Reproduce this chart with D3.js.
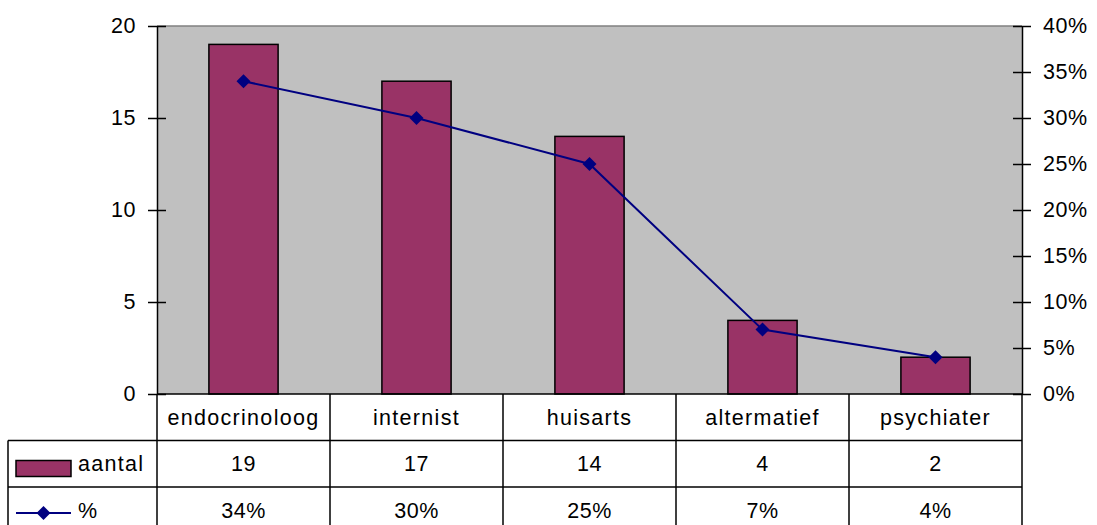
<!DOCTYPE html>
<html>
<head>
<meta charset="utf-8">
<script src="https://cdn.jsdelivr.net/npm/d3@7"></script>
<style>
  html, body { margin: 0; padding: 0; background: #fff; }
  svg { display: block; }
  text { font-family: "Liberation Sans", Arial, sans-serif; fill: #000; }
</style>
</head>
<body>
<svg id="chart" width="1097" height="525"></svg>
<script>
// Consulted care providers: count (bars) and share (line)
const categories = ["endocrinoloog", "internist", "huisarts", "altermatief", "psychiater"];
const aantal = [19, 17, 14, 4, 2];
const percentage = [0.34, 0.30, 0.25, 0.07, 0.04];
const leftTicks = [0, 5, 10, 15, 20];
const rightTicks = [0, 0.05, 0.10, 0.15, 0.20, 0.25, 0.30, 0.35, 0.40];
const seriesNames = ["aantal", "%"];

const svg = d3.select("#chart");
const plot = { left: 157, right: 1022, top: 26, bottom: 394 };
const table = { left: 8, rowH: 46.5 };
const fontSize = 21.5;
const wordSpacing = "1.3px";   // spacing for word labels
const numSpacing = "0.5px";    // spacing for numeric labels
const barColor = "#993366";
const lineColor = "#000080";

const x = d3.scaleBand().domain(categories).range([plot.left, plot.right]).paddingInner(0).paddingOuter(0);
const yL = d3.scaleLinear().domain([0, 20]).range([plot.bottom, plot.top]);
const yR = d3.scaleLinear().domain([0, 0.40]).range([plot.bottom, plot.top]);

// Plot background
svg.append("rect")
  .attr("x", plot.left).attr("y", plot.top)
  .attr("width", plot.right - plot.left).attr("height", plot.bottom - plot.top)
  .attr("fill", "#C0C0C0");
svg.append("line")
  .attr("x1", plot.left).attr("x2", plot.right)
  .attr("y1", plot.top).attr("y2", plot.top)
  .attr("stroke", "#808080").attr("stroke-width", 1.5);

// Bars
const barW = x.bandwidth() / 2.5;
svg.append("g").selectAll("rect")
  .data(aantal)
  .join("rect")
  .attr("x", (d, i) => x(categories[i]) + x.bandwidth() / 2 - barW / 2)
  .attr("y", d => yL(d))
  .attr("width", barW)
  .attr("height", d => plot.bottom - yL(d))
  .attr("fill", barColor)
  .attr("stroke", "#000")
  .attr("stroke-width", 1.5);

// Line with diamond markers
const cx = (i) => x(categories[i]) + x.bandwidth() / 2;
svg.append("path")
  .datum(percentage)
  .attr("d", d3.line().x((d, i) => cx(i)).y(d => yR(d)))
  .attr("fill", "none")
  .attr("stroke", lineColor)
  .attr("stroke-width", 2);
const diamond = d3.symbol().type(d3.symbolDiamond2).size(125);
svg.append("g").selectAll("path")
  .data(percentage)
  .join("path")
  .attr("transform", (d, i) => `translate(${cx(i)},${yR(d)})`)
  .attr("d", diamond)
  .attr("fill", lineColor);

// Axes with crossing ticks
const leftAxis = svg.append("g")
  .attr("transform", `translate(${plot.left},0)`)
  .call(d3.axisLeft(yL).tickValues(leftTicks).tickSize(9).tickPadding(12).tickSizeOuter(0));
leftAxis.selectAll(".tick line").attr("x2", -9).attr("x1", 9);
const rightAxis = svg.append("g")
  .attr("transform", `translate(${plot.right},0)`)
  .call(d3.axisRight(yR).tickValues(rightTicks).tickFormat(d3.format(".0%")).tickSize(9).tickPadding(12).tickSizeOuter(0));
rightAxis.selectAll(".tick line").attr("x1", -9).attr("x2", 9);
[leftAxis, rightAxis].forEach(g => {
  g.select(".domain").attr("stroke", "#000").attr("stroke-width", 1.5);
  g.selectAll(".tick line").attr("stroke", "#000").attr("stroke-width", 1.5);
  g.selectAll(".tick text")
    .style("font-family", "'Liberation Sans', Arial, sans-serif")
    .style("font-size", fontSize + "px")
    .style("letter-spacing", numSpacing)
    .attr("fill", "#000");
});
rightAxis.selectAll(".tick text").attr("x", 21);
leftAxis.selectAll(".tick text").attr("x", -21);

// Data table beneath the plot
const rowTop = [plot.bottom, plot.bottom + table.rowH, plot.bottom + 2 * table.rowH];
const tableBottom = plot.bottom + 3 * table.rowH;
const grid = svg.append("g").attr("stroke", "#000").attr("stroke-width", 1.5);
grid.append("line").attr("x1", plot.left).attr("x2", plot.right).attr("y1", rowTop[0]).attr("y2", rowTop[0]);
grid.append("line").attr("x1", table.left).attr("x2", plot.right).attr("y1", rowTop[1]).attr("y2", rowTop[1]);
grid.append("line").attr("x1", table.left).attr("x2", plot.right).attr("y1", rowTop[2]).attr("y2", rowTop[2]);
grid.append("line").attr("x1", table.left).attr("x2", table.left).attr("y1", rowTop[1]).attr("y2", tableBottom);
grid.selectAll(".col")
  .data(categories.concat(["end"]))
  .join("line")
  .attr("x1", (d, i) => plot.left + i * x.bandwidth())
  .attr("x2", (d, i) => plot.left + i * x.bandwidth())
  .attr("y1", rowTop[0]).attr("y2", tableBottom);

const cellText = (rowIdx, values, fmt, spacing) => svg.append("g").selectAll("text")
  .data(values)
  .join("text")
  .attr("x", (d, i) => cx(i))
  .attr("y", rowTop[rowIdx] + table.rowH / 2)
  .attr("dy", "0.35em")
  .attr("text-anchor", "middle")
  .style("font-size", fontSize + "px")
  .style("letter-spacing", spacing)
  .text(fmt);
cellText(0, categories, d => d, wordSpacing);
cellText(1, aantal, d => d, numSpacing);
cellText(2, percentage, d3.format(".0%"), numSpacing);

// Legend keys in the table's first column
const keyX0 = 16, keyX1 = 71;
svg.append("rect")
  .attr("x", keyX0).attr("y", rowTop[1] + 20)
  .attr("width", keyX1 - keyX0).attr("height", 16)
  .attr("fill", barColor).attr("stroke", "#000").attr("stroke-width", 1.5);
const lineKeyY = rowTop[2] + 26;
svg.append("line")
  .attr("x1", keyX0).attr("x2", keyX1).attr("y1", lineKeyY).attr("y2", lineKeyY)
  .attr("stroke", lineColor).attr("stroke-width", 2);
svg.append("path")
  .attr("transform", `translate(${(keyX0 + keyX1) / 2},${lineKeyY})`)
  .attr("d", diamond).attr("fill", lineColor);
svg.append("g").selectAll("text")
  .data(seriesNames)
  .join("text")
  .attr("x", 78)
  .attr("y", (d, i) => rowTop[i + 1] + table.rowH / 2)
  .attr("dy", "0.35em")
  .style("font-size", fontSize + "px")
  .style("letter-spacing", wordSpacing)
  .text(d => d);
</script>
</body>
</html>
